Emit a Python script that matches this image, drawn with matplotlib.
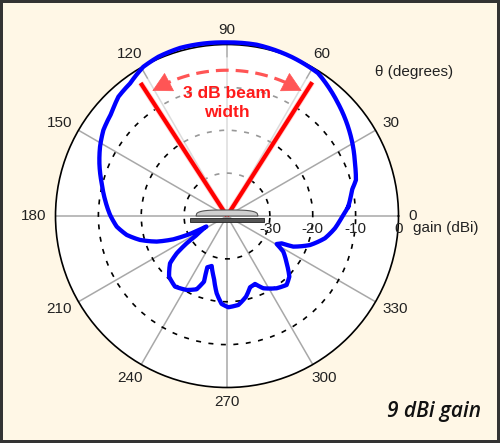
import numpy as np
import matplotlib
matplotlib.use("Agg")
import matplotlib.pyplot as plt
from matplotlib.patches import FancyArrowPatch, Polygon

# ---------------- data ----------------
angle_deg = [4.4, 11.75, 15.6, 22.5, 34.0, 45.5, 57.5, 67.8, 80.2, 90, 97.8, 105.6,
             113.3, 119.3, 126.2, 132.3, 138.4, 145.2, 151.4, 157.6, 165.4, 172.5,
             179.5, 185.5, 190.7, 195.4, 200, 203.5, 205.9, 207, 212.1, 214.1,
             216.6, 219.7, 226.3, 233.65, 241.4, 247.5, 250.7, 249, 252.95, 258.2,
             262.4, 266.5, 270.8, 277.3, 283.3, 287.9, 292.4, 296.7, 304.5, 310.85,
             315.8, 321.6, 327.65, 330.6, 333.4, 335.2, 340.7, 347.2, 353.5, 359.5,
             364.4]
gain_dbi = [-11.64, -10.24, -8.78, -7.71, -5.41, -3.08, -0.49, 0.04, 0.55, 0.49, 0.6, 0.7,
            0.44, -0.1, -1.7, -2.38, -3.94, -4.89, -6.27, -7.81, -9.81, -11.32,
            -12.73, -14.16, -16.2, -18.96, -22.55, -26.36, -30.41, -34.6, -31.66, -28.64,
            -25.39, -22.73, -20.44, -19.55, -20.35, -21.5, -23.78, -27.19, -27.81, -25.16,
            -21.81, -19.45, -18.71, -19.09, -20.68, -22.53, -22.86, -21.13, -19.55, -18.74,
            -19.72, -22.25, -24.46, -26.7, -25.75, -22.97, -19.5, -16.57, -14.66, -13.19,
            -11.64]

theta_ticks = [0, 30, 60, 90, 120, 150, 180, 210, 240, 270, 300, 330]
r_ticks = [-30, -20, -10, 0]
r_limits = [-40, 0]
beam_edges_deg = [57.5, 123.0]
beam_edge_gain = -3.0
arrow_gain = -6.0
arrow_tips_deg = [59.2, 120.8]
arrow_bases_deg = [66.0, 114.0]

# ---------------- style ----------------
plt.rcParams["font.family"] = ["Liberation Sans", "DejaVu Sans"]
BG = "#fff7e6"
W, H = 500, 443

fig = plt.figure(figsize=(W / 100, H / 100), dpi=100)
fig.patch.set_facecolor(BG)
fig.patch.set_edgecolor("#333333")
fig.patch.set_linewidth(3)

cx, cy, R = 227.0, 216.0, 171.5
ax = fig.add_axes([(cx - R) / W, (H - cy - R) / H, 2 * R / W, 2 * R / H],
                  projection="polar")
ax.set_facecolor("white")
ax.set_ylim(*r_limits)
ax.set_xticks(np.deg2rad(theta_ticks))
ax.set_yticks(r_ticks[:-1])
ax.set_xticklabels([])
ax.set_yticklabels([])
ax.xaxis.grid(True, color="#a8a8a8", lw=1.1, ls="-")
ax.yaxis.grid(True, color="black", lw=1.2, ls=(0, (3, 4.5)))
ax.spines["polar"].set_color("black")
ax.spines["polar"].set_linewidth(1.2)
ax.tick_params(length=0)

# translucent beam sector
tb = np.deg2rad(np.linspace(beam_edges_deg[0], beam_edges_deg[1], 80))
ax.fill(np.concatenate([[tb[0]], tb, [tb[-1]]]),
        np.concatenate([[r_limits[0]], np.full(tb.size, beam_edge_gain), [r_limits[0]]]),
        color="white", alpha=0.6, lw=0, zorder=2)

# red beam edge lines
for a in beam_edges_deg:
    ax.plot([np.deg2rad(a)] * 2, [r_limits[0], beam_edge_gain], color="#ffb0b0",
            lw=4.2, zorder=3, solid_capstyle="butt", alpha=0.6)
    ax.plot([np.deg2rad(a)] * 2, [r_limits[0], beam_edge_gain], color="#ff0000",
            lw=3.0, zorder=3, solid_capstyle="butt")

# dashed arrow arc
ta = np.deg2rad(np.linspace(arrow_bases_deg[0], arrow_bases_deg[1], 60))
ax.plot(ta, np.full(ta.size, arrow_gain), color="#ff5555", lw=2.3,
        ls=(0, (4, 2.2)), zorder=3)
for tip, base in zip(arrow_tips_deg, arrow_bases_deg):
    ar = FancyArrowPatch((np.deg2rad(base), arrow_gain), (np.deg2rad(tip), arrow_gain),
                         arrowstyle="-|>,head_length=13,head_width=7",
                         mutation_scale=1, shrinkA=0, shrinkB=0,
                         color="#ff5555", lw=0.5, zorder=3,
                         transform=ax.transData)
    ax.add_patch(ar)

ax.text(np.pi / 2, -13.6, "3 dB beam\nwidth", color="#ff1a1a", fontsize=12.5,
        fontweight="bold", ha="center", va="center", linespacing=1.3, zorder=5)

# antenna pattern (segments follow the polar grid, like matplotlib's own gridlines)
line, = ax.plot(np.deg2rad(angle_deg), gain_dbi, color="#0000ff", lw=3.1, zorder=4,
                clip_on=False, solid_joinstyle="round")
line.get_path()._interpolation_steps = 12

# antenna symbol (axes coordinates; centre at 0.5, 0.5)
px = 1.0 / (2 * R)
u = np.linspace(-1, 1, 80)
dome_x = 0.5 + u * 31 * px
dome_y = 0.5 + (1 - np.abs(u) ** 3.5) ** 0.35 * 6 * px
dome = Polygon(np.column_stack([dome_x, dome_y]), closed=True, transform=ax.transAxes,
               facecolor="#d0d0d0", edgecolor="#555555", lw=0.8, zorder=5)
ax.add_patch(dome)
bar = Polygon([[0.5 - 37 * px, 0.5 - 2.3 * px], [0.5 + 37 * px, 0.5 - 2.3 * px],
               [0.5 + 37 * px, 0.5 - 6.0 * px], [0.5 - 37 * px, 0.5 - 6.0 * px]],
              closed=True, transform=ax.transAxes, facecolor="#555555",
              edgecolor="#222222", lw=0.6, zorder=5)
ax.add_patch(bar)

# theta labels
for t in theta_ticks:
    lab = str(t)
    hw = 4.25 * len(lab)
    dx = (9.5 + hw) * np.cos(np.deg2rad(t)) * 0.72
    dy = (9 + 6) * np.sin(np.deg2rad(t)) * 0.72
    ax.annotate(lab, xy=(np.deg2rad(t), r_limits[1]), xytext=(dx, dy),
                textcoords="offset points", ha="center", va="center",
                fontsize=11, color="#222222", annotation_clip=False)

# radial labels
for r in r_ticks:
    ax.annotate(str(r), xy=(0, r), xytext=(0, -9.5), textcoords="offset points",
                ha="center", va="center", fontsize=11, color="#222222",
                annotation_clip=False, zorder=6)

fig.text(413 / W, 1 - 228 / H, "gain (dBi)", ha="left", va="center", fontsize=11,
         color="#222222")
fig.text(414 / W, 1 - 72 / H, "\u03b8 (degrees)", ha="center", va="center",
         fontsize=11, color="#222222")
fig.text(481 / W, 1 - 412 / H, "9 dBi gain", ha="right", va="center", fontsize=15,
         family=["Open Sans", "DejaVu Sans"], style="italic", fontweight="semibold",
         color="#111111")

fig.savefig("out.png", dpi=100, facecolor=BG, edgecolor="#333333")
